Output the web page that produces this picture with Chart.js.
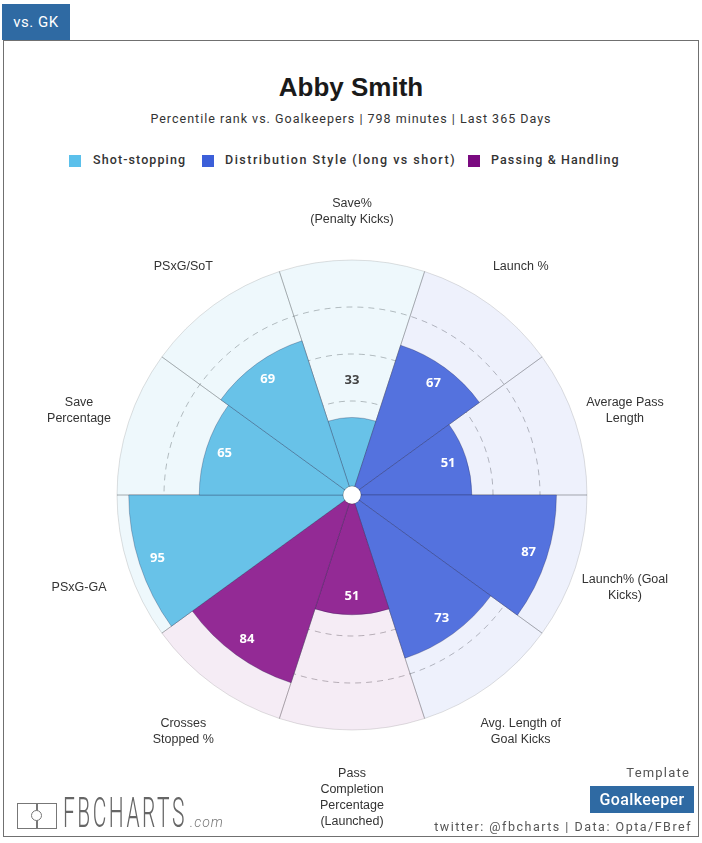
<!DOCTYPE html>
<html>
<head>
<meta charset="utf-8">
<script src="https://cdn.jsdelivr.net/npm/chart.js@4.4.1/dist/chart.umd.min.js"></script>
<style>
  body { margin: 0; background: #fff; font-family: Roboto, "Liberation Sans", sans-serif; }
  #page { position: relative; width: 702px; height: 843px; overflow: hidden; }
  .abs { position: absolute; }
  #tab { left: 2px; top: 4px; width: 68px; height: 36px; background: #2f6aa3; color: #fff;
         font-size: 15px; line-height: 36px; text-align: center; letter-spacing: 0.5px; }
  #frame { left: 3px; top: 40px; width: 694px; height: 795px; border: 1.5px solid #707070; }
  #title { left: 0; width: 702px; top: 72px; text-align: center; font: bold 26px "Liberation Sans", Arial, sans-serif; color: #1a1a1a; }
  #sub { left: 0; width: 702px; top: 111px; text-align: center; font-size: 12.5px; color: #333; letter-spacing: 1px; }
  .lgbox { width: 12px; height: 12px; top: 155px; }
  .lgtxt { top: 152px; font-size: 12.5px; font-weight: 500; color: #333; letter-spacing: 1.1px; }
  #chartBox { left: 0; top: 180px; width: 702px; height: 658px; }
  #tpl { right: 12px; top: 765px; font-size: 13px; color: #555; letter-spacing: 1.2px; }
  #gk { left: 590px; top: 786px; width: 104px; height: 27px; background: #2f6aa3; color: #fff;
        font-size: 16px; font-weight: 500; line-height: 27px; text-align: center; letter-spacing: 0.4px; }
  #credit { right: 10px; top: 819px; font-size: 12.5px; color: #555; letter-spacing: 1.5px; }
  #logoIcon { left: 17px; top: 803px; width: 38px; height: 24px; border: 1.5px solid #777; }
  #logoIcon .mid { position: absolute; left: 18px; top: 0; width: 1.5px; height: 24px; background: #777; }
  #logoIcon .circ { position: absolute; left: 13px; top: 6px; width: 9px; height: 9px; border: 1.5px solid #777; border-radius: 50%; background: #fff; }
  #logoTxt { left: 63px; top: 790px; font-size: 42px; font-weight: 300; color: #666; letter-spacing: 5px;
             transform: scaleX(0.5); transform-origin: left top; line-height: 46px; }
  #logoCom { left: 190px; top: 814px; font-size: 14px; font-style: italic; font-weight: 300; color: #777; letter-spacing: 1px; }
</style>
</head>
<body>
<div id="page">
  <div id="frame" class="abs"></div>
  <div id="tab" class="abs">vs. GK</div>
  <div id="title" class="abs">Abby Smith</div>
  <div id="sub" class="abs">Percentile rank vs. Goalkeepers | 798 minutes | Last 365 Days</div>

  <div class="abs lgbox" style="left:69px;background:#5bc0eb"></div>
  <div class="abs lgtxt" style="left:93px">Shot-stopping</div>
  <div class="abs lgbox" style="left:202px;background:#3c5fd9"></div>
  <div class="abs lgtxt" style="left:225px;letter-spacing:1.5px">Distribution Style (long vs short)</div>
  <div class="abs lgbox" style="left:468px;background:#7a0a80"></div>
  <div class="abs lgtxt" style="left:491px">Passing &amp; Handling</div>

  <div id="chartBox" class="abs"><canvas id="radar"></canvas></div>

  <div id="logoIcon" class="abs"><div class="mid"></div><div class="circ"></div></div>
  <div id="logoTxt" class="abs">FBCHARTS</div>
  <div id="logoCom" class="abs">.com</div>
  <div id="tpl" class="abs">Template</div>
  <div id="gk" class="abs">Goalkeeper</div>
  <div id="credit" class="abs">twitter: @fbcharts | Data: Opta/FBref</div>
</div>

<script>
// metrics, clockwise from the top
const labels = [
    ['Save%', '(Penalty Kicks)'],
    ['Launch %'],
    ['Average Pass', 'Length'],
    ['Launch% (Goal', 'Kicks)'],
    ['Avg. Length of', 'Goal Kicks'],
    ['Pass', 'Completion', 'Percentage', '(Launched)'],
    ['Crosses', 'Stopped %'],
    ['PSxG-GA'],
    ['Save', 'Percentage'],
    ['PSxG/SoT']
];
const percentiles = [33, 67, 51, 87, 73, 51, 84, 95, 65, 69];
const groups = ['shot', 'dist', 'dist', 'dist', 'dist', 'pass', 'pass', 'shot', 'shot', 'shot'];
const fullScale = [100, 100, 100, 100, 100, 100, 100, 100, 100, 100];

const fillColors = { shot: '#68c2e8', dist: '#5472de', pass: '#932a95' };
// see-through so the dashed rings show under the pale wedges
const backColors = { shot: 'rgba(104,194,232,0.11)', dist: 'rgba(84,114,222,0.10)', pass: 'rgba(147,42,149,0.09)' };

// value labels, point labels and the hub in the middle
const labelsPlugin = {
    id: 'labelsPlugin',
    afterDraw(chart) {
        const ctx = chart.ctx;
        const scale = chart.scales.r;
        const arcs = chart.getDatasetMeta(0).data;
        const R = scale.drawingArea;

        ctx.save();
        ctx.textAlign = 'center';
        ctx.textBaseline = 'middle';

        arcs.forEach(function (arc, i) {
            const mid = (arc.startAngle + arc.endAngle) / 2;
            const v = percentiles[i];
            const inside = v >= 40;
            const d = scale.getDistanceFromCenterForValue(inside ? v - 8 : v + 16);
            ctx.font = 'bold 13px "Open Sans", sans-serif';
            ctx.fillStyle = inside ? '#ffffff' : '#444444';
            ctx.fillText(String(v), scale.xCenter + Math.cos(mid) * d, scale.yCenter + Math.sin(mid) * d);

            // metric name outside the circle
            const lines = labels[i];
            const extra = lines.length > 2 ? (lines.length - 2) * 6 : 0;
            const dl = R + 52 + extra;
            const cx = scale.xCenter + Math.cos(mid) * dl;
            const cy = scale.yCenter + Math.sin(mid) * dl + 4;
            ctx.font = '12.5px "Liberation Sans", Arial, sans-serif';
            ctx.fillStyle = '#333333';
            const lh = 16;
            lines.forEach(function (line, k) {
                ctx.fillText(line, cx, cy + (k - (lines.length - 1) / 2) * lh);
            });
        });

        ctx.beginPath();
        ctx.arc(scale.xCenter, scale.yCenter, 9, 0, Math.PI * 2);
        ctx.fillStyle = '#ffffff';
        ctx.fill();
        ctx.strokeStyle = 'rgba(0,0,0,0.25)';
        ctx.lineWidth = 1;
        ctx.stroke();
        ctx.restore();
    }
};

document.addEventListener('DOMContentLoaded', function () {
    const ctx = document.getElementById('radar').getContext('2d');
    new Chart(ctx, {
        type: 'polarArea',
        data: {
            labels: labels,
            datasets: [{
                data: percentiles,
                backgroundColor: groups.map(g => fillColors[g]),
                borderColor: 'rgba(30,30,70,0.28)',
                borderWidth: 1
            }, {
                data: fullScale,
                backgroundColor: groups.map(g => backColors[g]),
                borderColor: 'rgba(0,0,0,0.12)',
                borderWidth: 1
            }]
        },
        options: {
            responsive: true,
            maintainAspectRatio: false,
            animation: false,
            layout: { padding: { left: 117, right: 115, top: 80, bottom: 108 } },
            plugins: {
                legend: { display: false },
                tooltip: { enabled: false }
            },
            scales: {
                r: {
                    min: 0,
                    max: 100,
                    startAngle: -18,
                    ticks: { display: false, stepSize: 20 },
                    pointLabels: { display: false },
                    grid: {
                        circular: true,
                        color: function (c) {
                            return c.tick && c.tick.value >= 100 ? 'rgba(0,0,0,0)' : 'rgba(0,0,0,0.28)';
                        },
                        lineWidth: 1
                    },
                    border: { dash: [6, 5] },
                    angleLines: {
                        display: true,
                        color: 'rgba(0,0,0,0.12)',
                        lineWidth: 1
                    }
                }
            }
        },
        plugins: [labelsPlugin]
    });
});
</script>
</body>
</html>
